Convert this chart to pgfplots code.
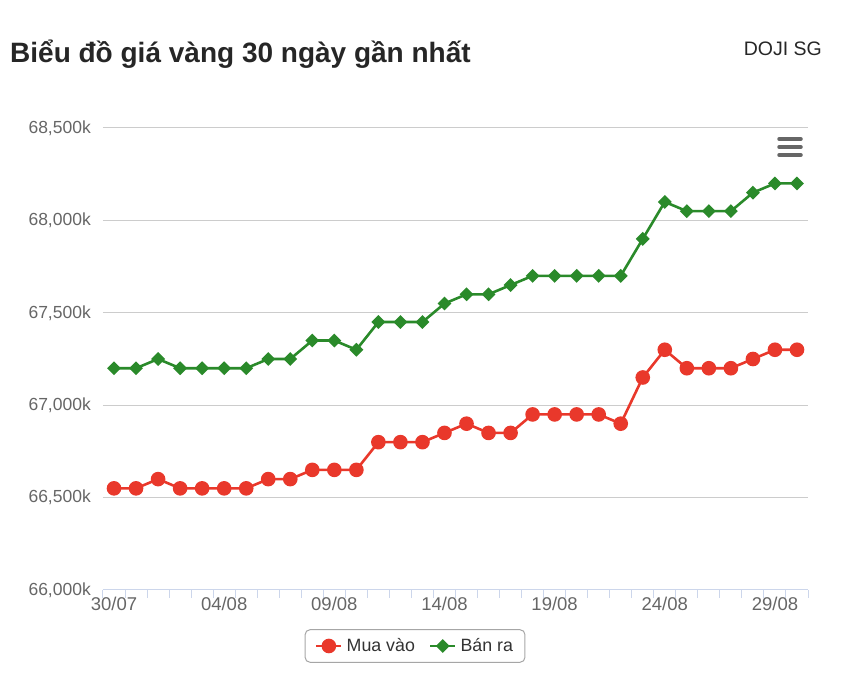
\documentclass[border=0pt]{standalone}
\usepackage{fontspec}
\setmainfont{Liberation Sans}
\usepackage{pgfplots}
\pgfplotsset{compat=1.18}
\definecolor{redS}{RGB}{233,56,43}
\definecolor{greenS}{RGB}{42,138,42}
\definecolor{gridc}{RGB}{204,204,204}
\definecolor{axisc}{RGB}{204,214,235}
\definecolor{lab}{RGB}{102,102,102}
\definecolor{legt}{RGB}{51,51,51}
\begin{document}
\begin{tikzpicture}
\path[use as bounding box] (0pt,0pt) rectangle (841pt,677pt);
\node[anchor=base west,inner sep=0pt,font=\fontsize{28}{32}\selectfont\bfseries,text=black!85] at (10pt,614pt) {Biểu đồ giá vàng 30 ngày gần nhất};
\node[anchor=base east,inner sep=0pt,font=\fontsize{19.5}{22}\selectfont,text=black!85] at (822pt,621pt) {DOJI SG};
\foreach \yy in {538,530,522}{\draw[line width=3.5pt,line cap=round,lab] (779pt,\yy pt) -- (801pt,\yy pt);}
\begin{axis}[
  at={(103pt,87pt)}, anchor=south west, scale only axis,
  width=705pt, height=462pt,
  xmin=-0.5, xmax=31.5, ymin=66000, ymax=68500,
  scaled y ticks=false,
  axis x line*=bottom, axis y line*=left,
  x axis line style={draw=axisc, line width=1pt, -},
  y axis line style={draw=none},
  ytick={66000,66500,...,68500},
  yticklabels={{66,000k},{66,500k},{67,000k},{67,500k},{68,000k},{68,500k}},
  ymajorgrids, grid style={gridc, line width=1pt},
  xtick={0,5,...,30},
  xticklabels={30/07,04/08,09/08,14/08,19/08,24/08,29/08},
  minor xtick={-0.5,0.5,...,31.5},
  major tick length=0pt, minor tick length=8pt, tick align=outside,
  minor tick style={axisc, line width=1pt},
  yticklabel style={font=\fontsize{17.5}{20}\selectfont, text=lab, anchor=east, inner sep=0pt, xshift=-12pt},
  xticklabel style={font=\fontsize{18.5}{21}\selectfont, text=lab, anchor=north, inner sep=0pt, yshift=-7pt},
  clip=false,
  legend columns=2,
  legend style={at={(0.4426,-0.1212)}, anchor=center, draw=gray!70, line width=1pt, rounded corners=5pt,
    font=\fontsize{17.8}{20}\selectfont, text=legt, inner xsep=10pt, inner ysep=7pt,
    /tikz/every even column/.append style={column sep=12pt},
    /tikz/every odd column/.append style={column sep=2pt}},
  legend image code/.code={\draw[mark repeat=2,mark phase=2] plot coordinates {(0pt,0pt)(12.5pt,0pt)(25pt,0pt)};},
]
\addplot[redS, line width=2.6pt, mark=*, mark size=6pt] coordinates {
(0,66550)(1,66550)(2,66600)(3,66550)(4,66550)(5,66550)(6,66550)(7,66600)
(8,66600)(9,66650)(10,66650)(11,66650)(12,66800)(13,66800)(14,66800)(15,66850)
(16,66900)(17,66850)(18,66850)(19,66950)(20,66950)(21,66950)(22,66950)(23,66900)
(24,67150)(25,67300)(26,67200)(27,67200)(28,67200)(29,67250)(30,67300)(31,67300)};
\addlegendentry{Mua vào}
\addplot[greenS, line width=2.6pt, mark=square*, mark size=3.6pt, mark options={rotate=45}] coordinates {
(0,67200)(1,67200)(2,67250)(3,67200)(4,67200)(5,67200)(6,67200)(7,67250)
(8,67250)(9,67350)(10,67350)(11,67300)(12,67450)(13,67450)(14,67450)(15,67550)
(16,67600)(17,67600)(18,67650)(19,67700)(20,67700)(21,67700)(22,67700)(23,67700)
(24,67900)(25,68100)(26,68050)(27,68050)(28,68050)(29,68150)(30,68200)(31,68200)};
\addlegendentry{Bán ra}
\end{axis}
\end{tikzpicture}
\end{document}
